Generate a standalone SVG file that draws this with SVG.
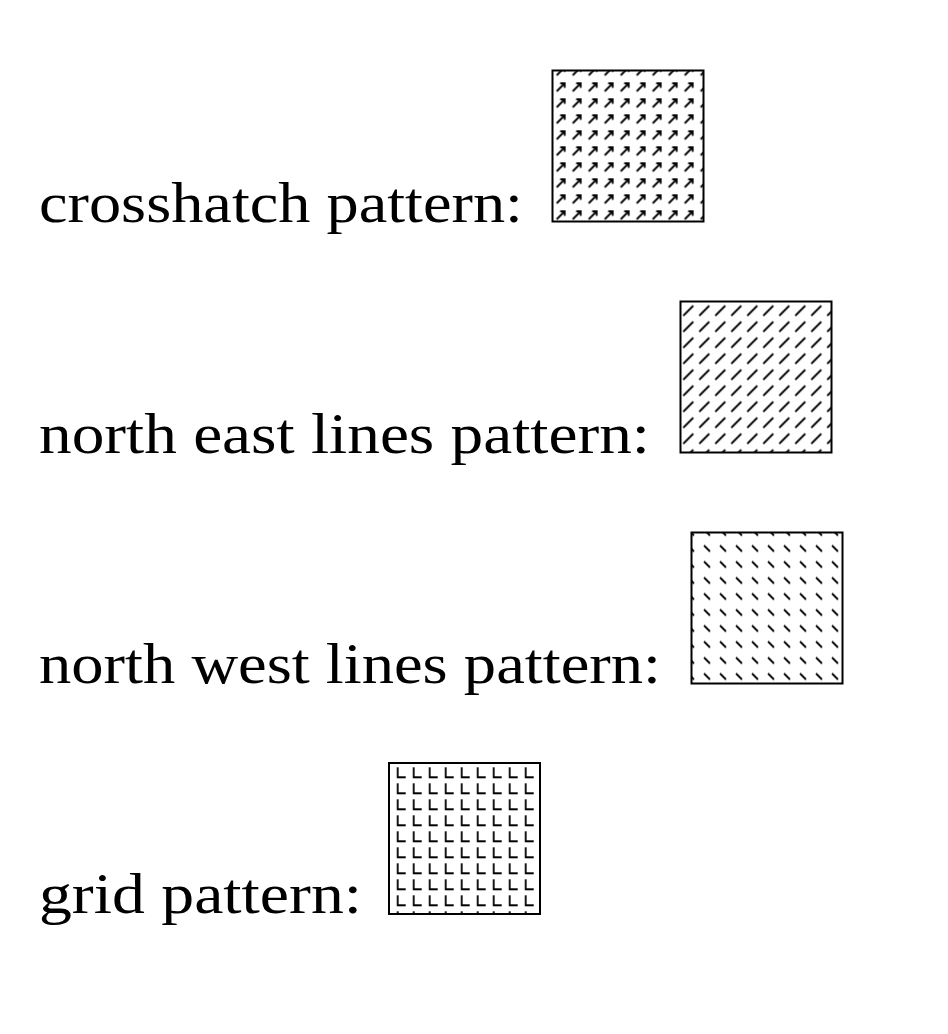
<svg xmlns="http://www.w3.org/2000/svg" width="948" height="1034" viewBox="0 0 948 1034">
<style>
.lbl{font-family:"Liberation Serif","Times New Roman",serif;font-size:56px;fill:#000}
.box{stroke:#000;stroke-width:2}
.pl{fill:none;stroke:#000;stroke-width:1.8}
</style>
<defs>
<pattern id="pCross" patternUnits="userSpaceOnUse" x="553.7" y="78.3" width="16" height="16">
<path class="pl" d="M3 13L11 5M6.5 5H11V9.5"/>
</pattern>
<pattern id="pNE" patternUnits="userSpaceOnUse" x="680.3" y="302.7" width="16" height="16">
<path class="pl" d="M3 13L13 3"/>
</pattern>
<pattern id="pNW" patternUnits="userSpaceOnUse" x="699" y="540.5" width="16" height="16">
<path class="pl" d="M5 5L11 11"/>
</pattern>
<pattern id="pGrid" patternUnits="userSpaceOnUse" x="389.7" y="762.3" width="16" height="16">
<path class="pl" d="M8 5V15H16.5"/>
</pattern>
</defs>
<rect width="948" height="1034" fill="#fff"/>
<g id="crosshatch">
<text class="lbl" x="39" y="222" textLength="484" lengthAdjust="spacingAndGlyphs">crosshatch pattern:</text>
<rect class="box" x="552.5" y="70.5" width="151" height="151" fill="url(#pCross)"/>
</g>
<g id="northeast">
<text class="lbl" x="39" y="452.5" textLength="611" lengthAdjust="spacingAndGlyphs">north east lines pattern:</text>
<rect class="box" x="680.5" y="301.5" width="151" height="151" fill="url(#pNE)"/>
</g>
<g id="northwest">
<text class="lbl" x="39" y="683" textLength="622" lengthAdjust="spacingAndGlyphs">north west lines pattern:</text>
<rect class="box" x="691.5" y="532.5" width="151" height="151" fill="url(#pNW)"/>
</g>
<g id="grid">
<text class="lbl" x="39" y="913" textLength="323" lengthAdjust="spacingAndGlyphs">grid pattern:</text>
<rect class="box" x="389" y="763" width="151" height="151" fill="url(#pGrid)"/>
</g>
<g id="connectors"/>
</svg>
